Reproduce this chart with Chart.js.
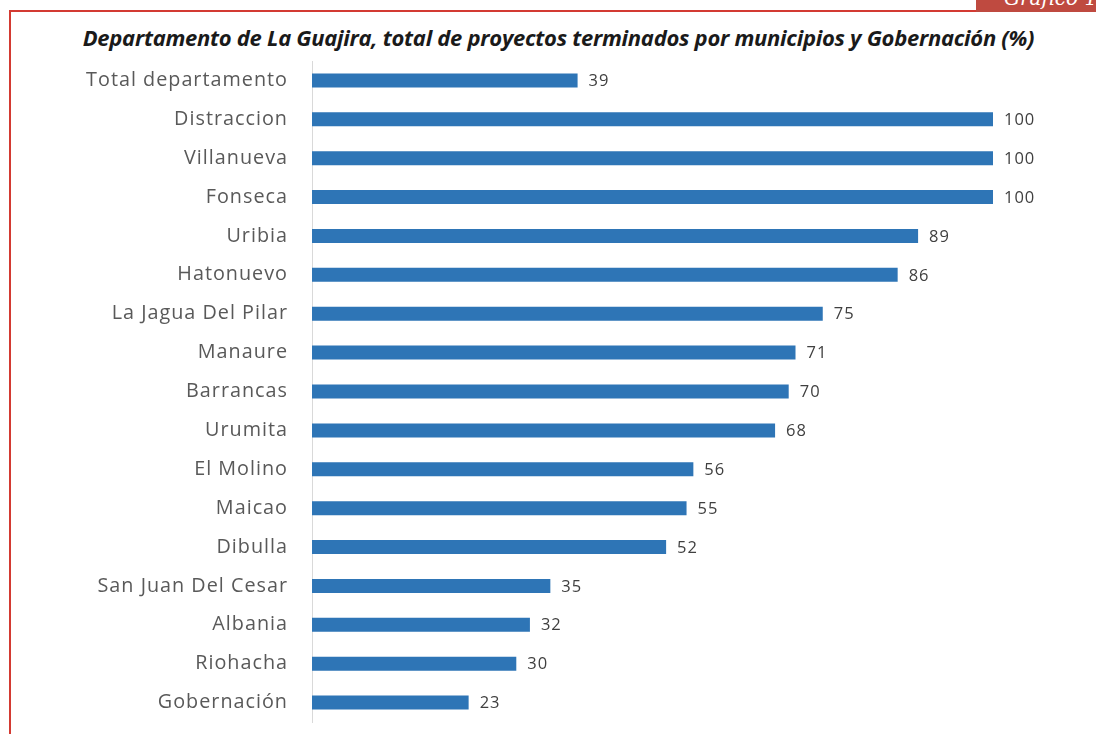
<!DOCTYPE html>
<html>
<head>
<meta charset="utf-8">
<script src="https://cdn.jsdelivr.net/npm/chart.js@4"></script>
<style>
  html, body { margin: 0; padding: 0; background: #fff; overflow: hidden; }
  #wrap { position: relative; width: 1096px; height: 734px; overflow: hidden; }
  #frame { position: absolute; left: 9px; top: 10px; width: 967px; height: 740px;
           border-left: 2px solid #d33a32; border-top: 2px solid #d33a32; }
  #tag { position: absolute; left: 976px; top: 0; width: 120px; height: 12px; background: #bf4a40; overflow: hidden; }
  #tag span { position: absolute; left: 28px; top: -14px; color: #fff; font: italic 20px "DejaVu Serif", serif; white-space: nowrap; }
  #title { position: absolute; left: 0; top: 22px; width: 1117px; text-align: center;
           font: italic bold 22px "Open Sans", sans-serif; color: #1a1a1a; letter-spacing: -0.28px; }
  canvas { position: absolute; left: 0; top: 0; }
</style>
</head>
<body>
<div id="wrap">
  <div id="frame"></div>
  <div id="tag"><span>Gráfico 11</span></div>
  <div id="title">Departamento de La Guajira, total de proyectos terminados por municipios y Gobernación (%)</div>
  <canvas id="chart" width="1096" height="734"></canvas>
</div>
<script>
const categories = ['Total departamento', 'Distraccion', 'Villanueva', 'Fonseca', 'Uribia', 'Hatonuevo',
  'La Jagua Del Pilar', 'Manaure', 'Barrancas', 'Urumita', 'El Molino', 'Maicao', 'Dibulla',
  'San Juan Del Cesar', 'Albania', 'Riohacha', 'Gobernación'];
const values = [39, 100, 100, 100, 89, 86, 75, 71, 70, 68, 56, 55, 52, 35, 32, 30, 23];

// the reference text is slightly spaced out
const spacing = {
  id: 'spacing',
  beforeDraw(chart) { chart.ctx.letterSpacing = '1px'; }
};

// draws the value at the end of each bar
const valueLabels = {
  id: 'valueLabels',
  afterDatasetsDraw(chart) {
    const ctx = chart.ctx;
    const meta = chart.getDatasetMeta(0);
    ctx.save();
    ctx.letterSpacing = '1px';
    ctx.font = '16.5px "Open Sans", sans-serif';
    ctx.fillStyle = '#404040';
    ctx.textAlign = 'left';
    ctx.textBaseline = 'middle';
    meta.data.forEach((bar, i) => {
      ctx.fillText(String(values[i]), bar.x + 11, bar.y + 1);
    });
    ctx.restore();
  }
};

new Chart(document.getElementById('chart'), {
  type: 'bar',
  data: {
    labels: categories,
    datasets: [{
      data: values,
      backgroundColor: '#2e75b6',
      borderWidth: 0,
      barPercentage: 0.72,
      categoryPercentage: 0.5
    }]
  },
  options: {
    indexAxis: 'y',
    responsive: false,
    animation: false,
    layout: { padding: { top: 61, right: 103, bottom: 12, left: 0 } },
    plugins: { legend: { display: false }, tooltip: { enabled: false } },
    scales: {
      x: { min: 0, max: 100, display: false },
      y: {
        afterFit(scale) {
          scale.width = 312;
          scale.paddingTop = 0;
          scale.paddingBottom = 0;
        },
        grid: { display: false, drawTicks: false },
        border: { color: '#d9d9d9', width: 1 },
        ticks: { color: '#595959', font: { size: 19.8, family: '"Open Sans", sans-serif' }, padding: 24 }
      }
    }
  },
  plugins: [spacing, valueLabels]
});
</script>
</body>
</html>
